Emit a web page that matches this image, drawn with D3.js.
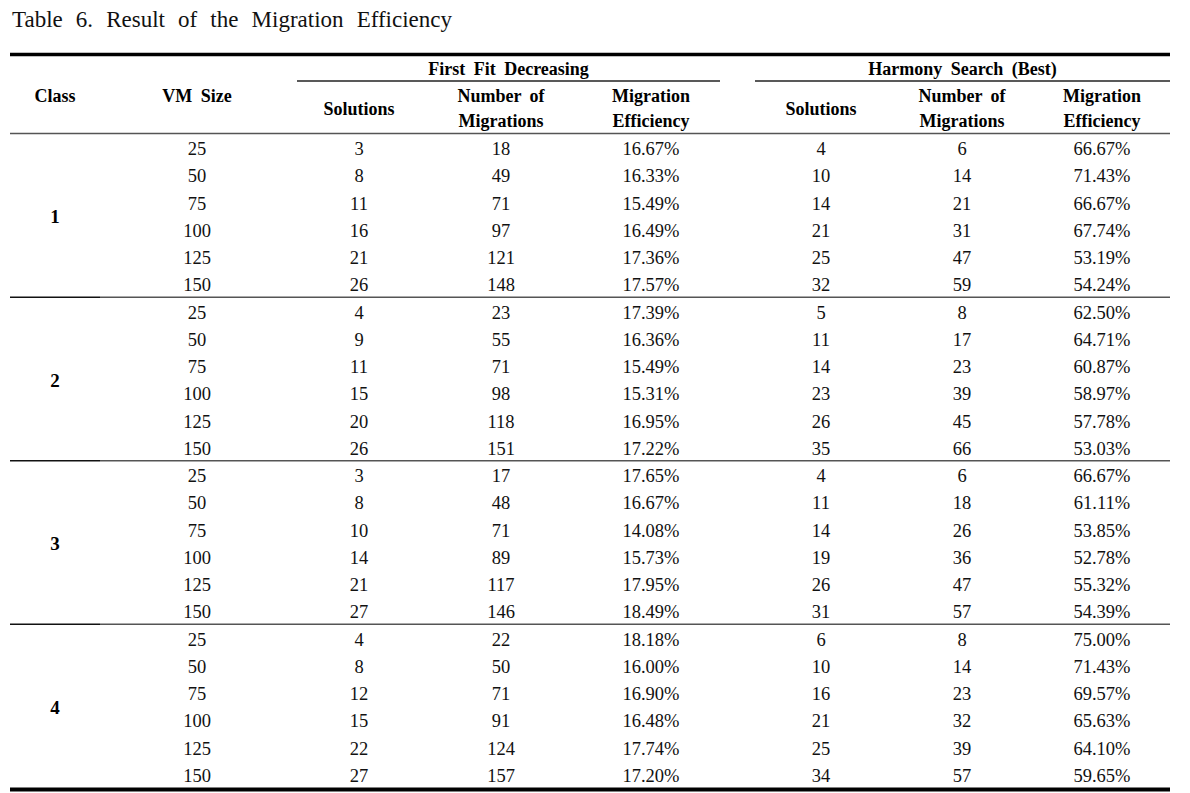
<!DOCTYPE html>
<html>
<head>
<meta charset="utf-8">
<script src="https://cdn.jsdelivr.net/npm/d3@7/dist/d3.min.js"></script>
<style>
  html, body { margin: 0; padding: 0; background: #fff; }
  svg { display: block; }
  text { font-family: "Liberation Serif", "Times New Roman", serif; fill: #111; }
  .hdr { font-weight: bold; font-size: 18px; word-spacing: 4px; fill: #000; }
  .cell { font-size: 18.5px; }
</style>
</head>
<body>
<svg id="chart" width="1190" height="793"></svg>
<script>
// ---------------- data ----------------
const titleText = "Table 6. Result of the Migration Efficiency";
const classes = [1, 2, 3, 4];
const vmSizes = [25, 50, 75, 100, 125, 150];
const groupHeaders = ["First Fit Decreasing", "Harmony Search (Best)"];
const columnHeaders = ["Class", "VM Size", "Solutions", "Number of|Migrations", "Migration|Efficiency", "Solutions", "Number of|Migrations", "Migration|Efficiency"];

const ffdSolutions  = [3, 8, 11, 16, 21, 26,  4, 9, 11, 15, 20, 26,  3, 8, 10, 14, 21, 27,  4, 8, 12, 15, 22, 27];
const ffdMigrations = [18, 49, 71, 97, 121, 148,  23, 55, 71, 98, 118, 151,  17, 48, 71, 89, 117, 146,  22, 50, 71, 91, 124, 157];
const ffdEfficiency = [16.67, 16.33, 15.49, 16.49, 17.36, 17.57,  17.39, 16.36, 15.49, 15.31, 16.95, 17.22,  17.65, 16.67, 14.08, 15.73, 17.95, 18.49,  18.18, 16.00, 16.90, 16.48, 17.74, 17.20];
const hsSolutions   = [4, 10, 14, 21, 25, 32,  5, 11, 14, 23, 26, 35,  4, 11, 14, 19, 26, 31,  6, 10, 16, 21, 25, 34];
const hsMigrations  = [6, 14, 21, 31, 47, 59,  8, 17, 23, 39, 45, 66,  6, 18, 26, 36, 47, 57,  8, 14, 23, 32, 39, 57];
const hsEfficiency  = [66.67, 71.43, 66.67, 67.74, 53.19, 54.24,  62.50, 64.71, 60.87, 58.97, 57.78, 53.03,  66.67, 61.11, 53.85, 52.78, 55.32, 54.39,  75.00, 71.43, 69.57, 65.63, 64.10, 59.65];

// ---------------- layout ----------------
const svg = d3.select("#chart");
const L = 10, R = 1170;
const colKeys = d3.range(columnHeaders.length);
const x = d3.scaleOrdinal().domain(colKeys).range([55, 197, 359, 501, 651, 821, 962, 1102]);
const nRows = classes.length * vmSizes.length;
const y = d3.scaleLinear().domain([0, nRows - 1]).range([155, 781.75]); // baselines
const pct = v => d3.format(".2f")(v) + "%";

const rows = d3.range(nRows).map(i => ({
  i,
  cells: [null, vmSizes[i % vmSizes.length], ffdSolutions[i], ffdMigrations[i], pct(ffdEfficiency[i]), hsSolutions[i], hsMigrations[i], pct(hsEfficiency[i])]
}));

// title
const title = svg.append("text").attr("x", 12).attr("y", 27)
  .style("font-size", "23px").text(titleText);
{
  const nat = title.node().getComputedTextLength();
  const spaces = titleText.split(" ").length - 1;
  title.style("word-spacing", Math.max(0, (440 - nat) / spaces) + "px");
}

// rules
const rule = (x1, x2, yy, w, c) => svg.append("line").attr("x1", x1).attr("x2", x2)
  .attr("y1", yy).attr("y2", yy).attr("stroke", c).attr("stroke-width", w);
rule(L, R, 54.5, 3.5, "#000");
rule(297, 720, 81, 1.3, "#222");
rule(755, R, 81, 1.3, "#222");
rule(L, R, 133.5, 1.4, "#555");
classes.slice(0, -1).forEach((c, k) => {
  const yy = y((k + 1) * vmSizes.length - 1) + 6;
  rule(L, 100, yy, 1.4, "#111");
  rule(100, R, yy, 1.4, "#555");
});
rule(L, R, 789.5, 4, "#000");

// group headers
const groupCenters = [508.5, 962.5];
svg.selectAll("text.grp").data(groupHeaders).join("text")
  .attr("class", "hdr grp").attr("text-anchor", "middle")
  .attr("x", (d, i) => groupCenters[i]).attr("y", 75).text(d => d);

// column headers
colKeys.forEach(k => {
  const parts = columnHeaders[k].split("|");
  const g = svg.append("g");
  if (parts.length === 2) {
    g.append("text").attr("class", "hdr").attr("text-anchor", "middle").attr("x", x(k)).attr("y", 102).text(parts[0]);
    g.append("text").attr("class", "hdr").attr("text-anchor", "middle").attr("x", x(k)).attr("y", 127).text(parts[1]);
  } else {
    const yy = (k < 2) ? 102 : 115;
    g.append("text").attr("class", "hdr").attr("text-anchor", "middle").attr("x", x(k)).attr("y", yy).text(parts[0]);
  }
});

// class labels
svg.selectAll("text.cls").data(classes).join("text")
  .attr("class", "hdr cls").attr("text-anchor", "middle")
  .style("font-size", "19px")
  .attr("x", x(0))
  .attr("y", (d, k) => (y(k * vmSizes.length + 2) + y(k * vmSizes.length + 3)) / 2)
  .text(d => d);

// body cells
const rowG = svg.selectAll("g.row").data(rows).join("g").attr("class", "row")
  .attr("transform", d => `translate(0,${y(d.i)})`);
rowG.selectAll("text").data(d => d.cells.map((v, k) => ({ v, k })).filter(c => c.v !== null))
  .join("text").attr("class", "cell").attr("text-anchor", "middle")
  .attr("x", c => x(c.k)).attr("y", 0).text(c => c.v);
</script>
</body>
</html>
